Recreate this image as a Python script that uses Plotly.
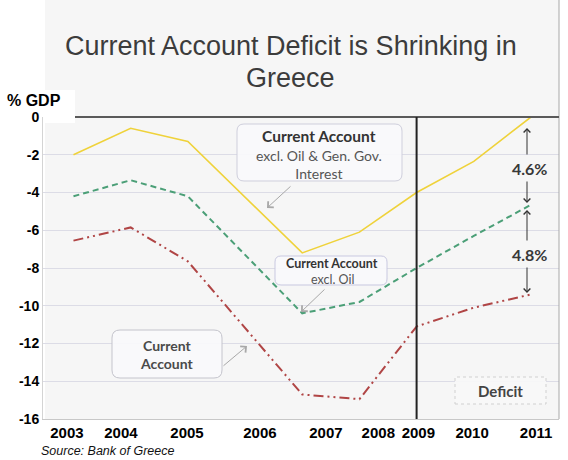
import plotly.graph_objects as go

# ---------------- data ----------------
years = [2003, 2004, 2005, 2007, 2008, 2009, 2010, 2011]
ca_excl_oil_interest = [-2.0, -0.6, -1.3, -7.2, -6.1, -4.0, -2.35, 0.0]
ca_excl_oil = [-4.2, -3.35, -4.2, -10.4, -9.8, -8.0, -6.3, -4.65]
current_account = [-6.55, -5.85, -7.65, -14.7, -14.95, -11.1, -10.1, -9.4]

tick_labels = ["2003", "2004", "2005", "2006", "2007", "2008", "2009", "2010", "2011"]
y_ticks = [0, -2, -4, -6, -8, -10, -12, -14, -16]
divider_year = 2009
gap_upper = "4.6%"
gap_lower = "4.8%"

# ---------------- layout geometry ----------------
W, H = 568, 460
L, R, T, B = 43, 9, 117, 41
PW, PH = W - L - R, H - T - B
tick_pos = [2002.886, 2003.83, 2004.985, 2006.26, 2007.415, 2008.33, 2009.03, 2009.97, 2011.09]

SANS = "Liberation Sans, Arial, sans-serif"
BOXF = "Lato, Open Sans, sans-serif"


def px(x):
    return (x - L) / PW


def py(y):
    return (H - B - y) / PH


def rrect(x0, y0, x1, y1, r=7):
    def P(a, b):
        return f"{px(a):.5f},{py(b):.5f}"
    return (f"M {P(x0 + r, y0)} L {P(x1 - r, y0)} Q {P(x1, y0)} {P(x1, y0 + r)} "
            f"L {P(x1, y1 - r)} Q {P(x1, y1)} {P(x1 - r, y1)} "
            f"L {P(x0 + r, y1)} Q {P(x0, y1)} {P(x0, y1 - r)} "
            f"L {P(x0, y0 + r)} Q {P(x0, y0)} {P(x0 + r, y0)} Z")


fig = go.Figure()

fig.add_trace(go.Scatter(x=years, y=ca_excl_oil_interest, mode="lines",
                         line=dict(color="#efd23a", width=1.6), name="CA excl. Oil & Gen. Gov. Interest"))
fig.add_trace(go.Scatter(x=years, y=ca_excl_oil, mode="lines",
                         line=dict(color="#4b9f77", width=2, dash="6px,4px"), name="CA excl. Oil"))
fig.add_trace(go.Scatter(x=years, y=current_account, mode="lines",
                         line=dict(color="#b04545", width=2, dash="10px,4px,2px,4px,2px,4px"),
                         name="Current Account"))

shapes = [
    dict(type="rect", xref="paper", yref="paper", x0=px(45), x1=px(559), y0=py(419), y1=py(0),
         fillcolor="#f6f6f6", line=dict(width=0), layer="below"),
    dict(type="rect", xref="paper", yref="paper", x0=px(0), x1=px(75), y0=py(123), y1=py(90),
         fillcolor="white", line=dict(width=0), layer="below"),
    dict(type="line", xref="paper", yref="paper", x0=px(559), x1=px(559), y0=py(419), y1=py(0),
         line=dict(color="#a8a8a8", width=1)),
    dict(type="line", xref="paper", yref="paper", x0=px(75), x1=px(559), y0=1, y1=1,
         line=dict(color="#5a5a5a", width=2)),
    dict(type="line", xref="x", yref="paper", x0=divider_year, x1=divider_year, y0=0, y1=1,
         line=dict(color="#222222", width=2)),
    dict(type="path", xref="paper", yref="paper", path=rrect(237, 124, 402, 181),
         fillcolor="rgba(250,250,252,0.9)", line=dict(color="#cfcfdc", width=1)),
    dict(type="path", xref="paper", yref="paper", path=rrect(275, 256, 387, 285, 6),
         fillcolor="rgba(250,250,252,0.9)", line=dict(color="#c8c8e0", width=1)),
    dict(type="path", xref="paper", yref="paper", path=rrect(112, 330, 222, 378, 8),
         fillcolor="rgba(250,250,252,0.9)", line=dict(color="#c4c4cc", width=1)),
    dict(type="rect", xref="paper", yref="paper", x0=px(455), x1=px(546), y0=py(404), y1=py(377),
         fillcolor="rgba(248,248,248,0.9)", line=dict(color="#d0d0d0", width=1, dash="dot")),
]

ann = []


def text(xp, yp, t, size, color="#444", family=BOXF, xanchor="center"):
    ann.append(dict(x=px(xp), y=py(yp), xref="paper", yref="paper", text=t, showarrow=False,
                    xanchor=xanchor, yanchor="middle",
                    font=dict(size=size, color=color, family=family)))


def arrow(hx, hy, tx, ty, color="#a8a8a8", width=1, size=1.6):
    ann.append(dict(x=px(hx), y=py(hy), xref="paper", yref="paper", text="", showarrow=True,
                    ax=tx - hx, ay=ty - hy, arrowhead=4, arrowsize=size, arrowwidth=width,
                    arrowcolor=color))


text(290.5, 46, "Current Account Deficit is Shrinking in", 27, color="#3c3c3c", family=SANS)
text(290.5, 78, "Greece", 27, color="#3c3c3c", family=SANS)
text(34, 100, "<b>% GDP</b>", 16, color="#000", family=SANS)
text(39, 451, "<i>Source: Bank of Greece</i>", 12.5, color="#111", family=SANS, xanchor="left")

text(319, 136, "<b>Current Account</b>", 15.5, color="#333")
text(319, 164, "excl. Oil &amp; Gen. Gov.<br>Interest", 14, color="#555")
text(332, 263, "<b>Current Account</b>", 12.5, color="#333")
text(332, 279, "excl. Oil", 12.5, color="#555")
text(167, 354, "<b>Current<br>Account</b>", 14, color="#4a4a4a")
text(500, 391, "<b>Deficit</b>", 15, color="#444")
text(529, 168, f"<b>{gap_upper}</b>", 16, color="#383838")
text(529, 254, f"<b>{gap_lower}</b>", 16, color="#383838")

arrow(267, 208, 292, 185)
arrow(301, 312, 326, 288)
arrow(247, 346, 222, 367)
arrow(527, 128, 527, 156, color="#333", size=1.3)
arrow(527, 203, 527, 180, color="#333", size=1.3)
arrow(527, 210, 527, 242, color="#333", size=1.3)
arrow(527, 293, 527, 266, color="#333", size=1.3)

fig.update_layout(
    width=W, height=H,
    margin=dict(l=L, r=R, t=T, b=B, pad=0),
    paper_bgcolor="white",
    plot_bgcolor="rgba(0,0,0,0)",
    showlegend=False,
    hovermode=False,
    shapes=shapes,
    annotations=ann,
    xaxis=dict(range=[2002.467, 2011.49], tickvals=tick_pos, ticktext=tick_labels,
               showgrid=False, zeroline=False, showline=True, linecolor="#c8c8c8", linewidth=1,
               ticks="", tickfont=dict(family=SANS, size=15, color="#000", weight="bold"),
               fixedrange=True),
    yaxis=dict(range=[-16, 0], tickvals=y_ticks, ticktext=[str(v) for v in y_ticks],
               showgrid=True, gridcolor="#dcdce6", gridwidth=1, zeroline=False,
               showline=True, linecolor="#d4d4d4", linewidth=1, ticks="",
               tickfont=dict(family=SANS, size=14, color="#000", weight="bold"),
               fixedrange=True),
)

fig.write_html("out.html", config={"displayModeBar": False},
               post_script="document.body.style.margin='0';document.body.style.overflow='hidden';")
